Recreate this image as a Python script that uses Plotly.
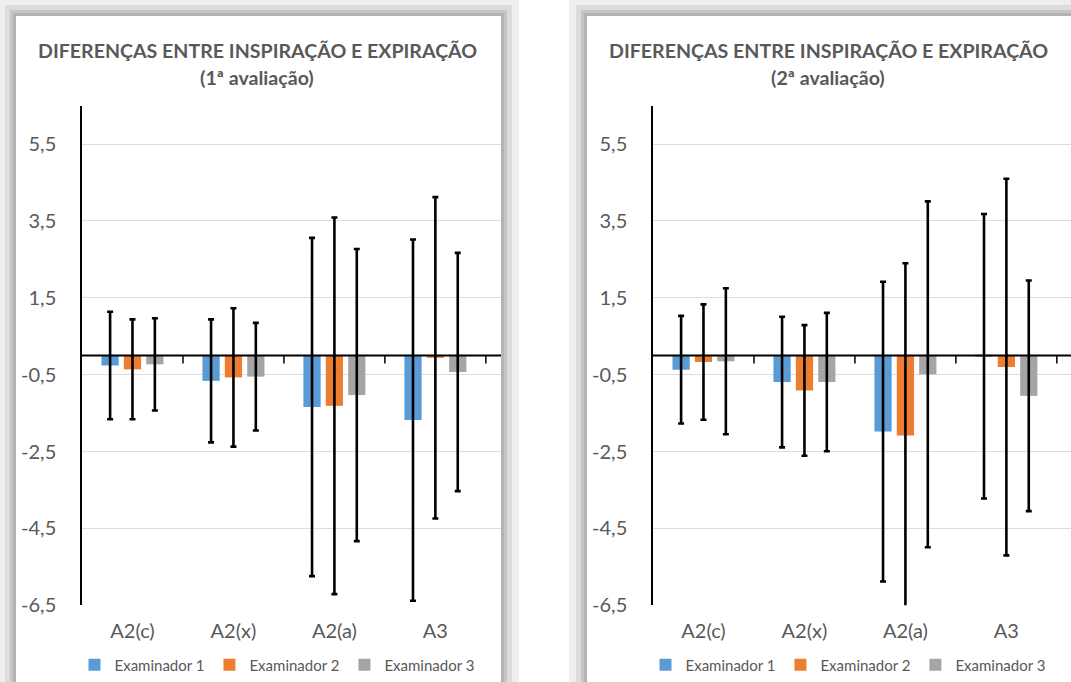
import plotly.graph_objects as go

# ---------------- data ----------------
categories = ["A2(c)", "A2(x)", "A2(a)", "A3"]
series_names = ["Examinador 1", "Examinador 2", "Examinador 3"]
colors = ["#5B9BD5", "#ED7D31", "#A5A5A5"]

# 1ª avaliação
aval1_ex1 = [-0.26, -0.66, -1.34, -1.68]
aval1_ex2 = [-0.36, -0.57, -1.31, -0.06]
aval1_ex3 = [-0.23, -0.55, -1.03, -0.43]
aval1_err1 = [1.40, 1.60, 4.40, 4.70]
aval1_err2 = [1.30, 1.80, 4.90, 4.18]
aval1_err3 = [1.20, 1.40, 3.80, 3.10]

# 2ª avaliação
aval2_ex1 = [-0.37, -0.69, -1.98, -0.02]
aval2_ex2 = [-0.17, -0.91, -2.08, -0.30]
aval2_ex3 = [-0.15, -0.69, -0.49, -1.05]
aval2_err1 = [1.40, 1.70, 3.90, 3.70]
aval2_err2 = [1.50, 1.70, 4.48, 4.90]
aval2_err3 = [1.90, 1.80, 4.50, 3.00]

title_line1 = "DIFERENÇAS ENTRE INSPIRAÇÃO E EXPIRAÇÃO"
subtitles = ["(1ª avaliação)", "(2ª avaliação)"]

y_tick_vals = [-6.5, -4.5, -2.5, -0.5, 1.5, 3.5, 5.5]
y_tick_text = ["-6,5", "-4,5", "-2,5", "-0,5", "1,5", "3,5", "5,5"]
boundary_ticks = [0.5, 1.5, 2.5, 3.5]

# ---------------- layout helpers ----------------
W, H = 1071, 682
FONT = "Lato"
TXT = "#595959"


def px(x):
    return x / W


def py(y):
    return 1 - y / H


y_dom = [py(605.3), py(105.7)]

fig = go.Figure()

panels = [
    dict(vals=[aval1_ex1, aval1_ex2, aval1_ex3], errs=[aval1_err1, aval1_err2, aval1_err3],
         xa="x", ya="y", leg="legend"),
    dict(vals=[aval2_ex1, aval2_ex2, aval2_ex3], errs=[aval2_err1, aval2_err2, aval2_err3],
         xa="x2", ya="y2", leg="legend2"),
]

for p in panels:
    for name, col, v, e in zip(series_names, colors, p["vals"], p["errs"]):
        fig.add_trace(go.Bar(
            x=categories, y=v, name=name, marker=dict(color=col, line=dict(width=0)),
            error_y=dict(type="data", array=e, visible=True, color="black",
                         thickness=2.6, width=3),
            xaxis=p["xa"], yaxis=p["ya"], legend=p["leg"],
        ))

# ---------------- card shadows ----------------
shapes = []


def card(x0, x1):
    bands = [(18, "#eeeeee"), (11, "#dcdcdc"), (6, "#c6c6c6"), (3, "#b4b4b4")]
    for d, c in bands:
        shapes.append(dict(type="rect", xref="paper", yref="paper", layer="below",
                           x0=px(x0 - d), x1=px(x1 + d),
                           y0=py(H + 20), y1=py(16 - d), fillcolor=c, line=dict(width=0)))
    shapes.append(dict(type="rect", xref="paper", yref="paper", layer="below",
                       x0=px(x0), x1=px(x1), y0=py(H + 20), y1=py(16),
                       fillcolor="white", line=dict(width=0)))


card(16, 501)
card(587, 1100)

# zero line (category axis crossing at 0) and boundary tick marks on it
for xa, ya in [("x", "y"), ("x2", "y2")]:
    shapes.append(dict(type="line", xref=xa + " domain", yref=ya, x0=0, x1=1, y0=0, y1=0,
                       line=dict(color="black", width=2), layer="above"))
    for b in boundary_ticks:
        shapes.append(dict(type="line", xref=xa, yref=ya, ysizemode="pixel", yanchor=0,
                           x0=b, x1=b, y0=0, y1=-8,
                           line=dict(color="black", width=1.5), layer="above"))

annotations = []
for cx, sub in zip([257, 828], subtitles):
    annotations.append(dict(text="<b>" + title_line1 + "</b>", x=px(cx), y=py(50), xref="paper", yref="paper",
                            xanchor="center", yanchor="middle", showarrow=False,
                            font=dict(family=FONT, size=19.6, color=TXT)))
    annotations.append(dict(text="<b>" + sub + "</b>", x=px(cx), y=py(77), xref="paper", yref="paper",
                            xanchor="center", yanchor="middle", showarrow=False,
                            font=dict(family=FONT, size=19.6, color=TXT)))

x_common = dict(type="category", showgrid=False, showline=False, ticks="", zeroline=False,
                tickfont=dict(family=FONT, size=20, color=TXT), ticklabelstandoff=12)
y_common = dict(range=[-6.5, 6.5], tickvals=y_tick_vals, ticktext=y_tick_text,
                showgrid=True, gridcolor="#dddddd", gridwidth=1, zeroline=False,
                showline=True, linecolor="black", linewidth=1.5, ticks="",
                tickfont=dict(family=FONT, size=20, color=TXT), ticklabelstandoff=20)

legend_common = dict(orientation="h", xanchor="center", yanchor="middle", y=py(665),
                     font=dict(family=FONT, size=15, color=TXT), bgcolor="rgba(0,0,0,0)",
                     itemwidth=30, traceorder="normal")

fig.update_layout(
    width=W, height=H, margin=dict(l=0, r=0, t=0, b=0, autoexpand=False),
    paper_bgcolor="white", plot_bgcolor="rgba(0,0,0,0)",
    barmode="group", bargap=0.335, bargroupgap=0.23,
    xaxis=dict(domain=[px(82), px(501)], range=[-0.5, 3.65], anchor="y", **x_common),
    yaxis=dict(domain=y_dom, anchor="x", **y_common),
    xaxis2=dict(domain=[px(653), 1.0], range=[-0.5, 3.64], anchor="y2", **x_common),
    yaxis2=dict(domain=y_dom, anchor="x2", **y_common),
    legend=dict(x=px(277), **legend_common),
    legend2=dict(x=px(848), **legend_common),
    shapes=shapes, annotations=annotations, showlegend=True,
)

fig.write_html("out.html", config={"displayModeBar": False},
               post_script="document.body.style.margin='0';document.body.style.padding='0';")
